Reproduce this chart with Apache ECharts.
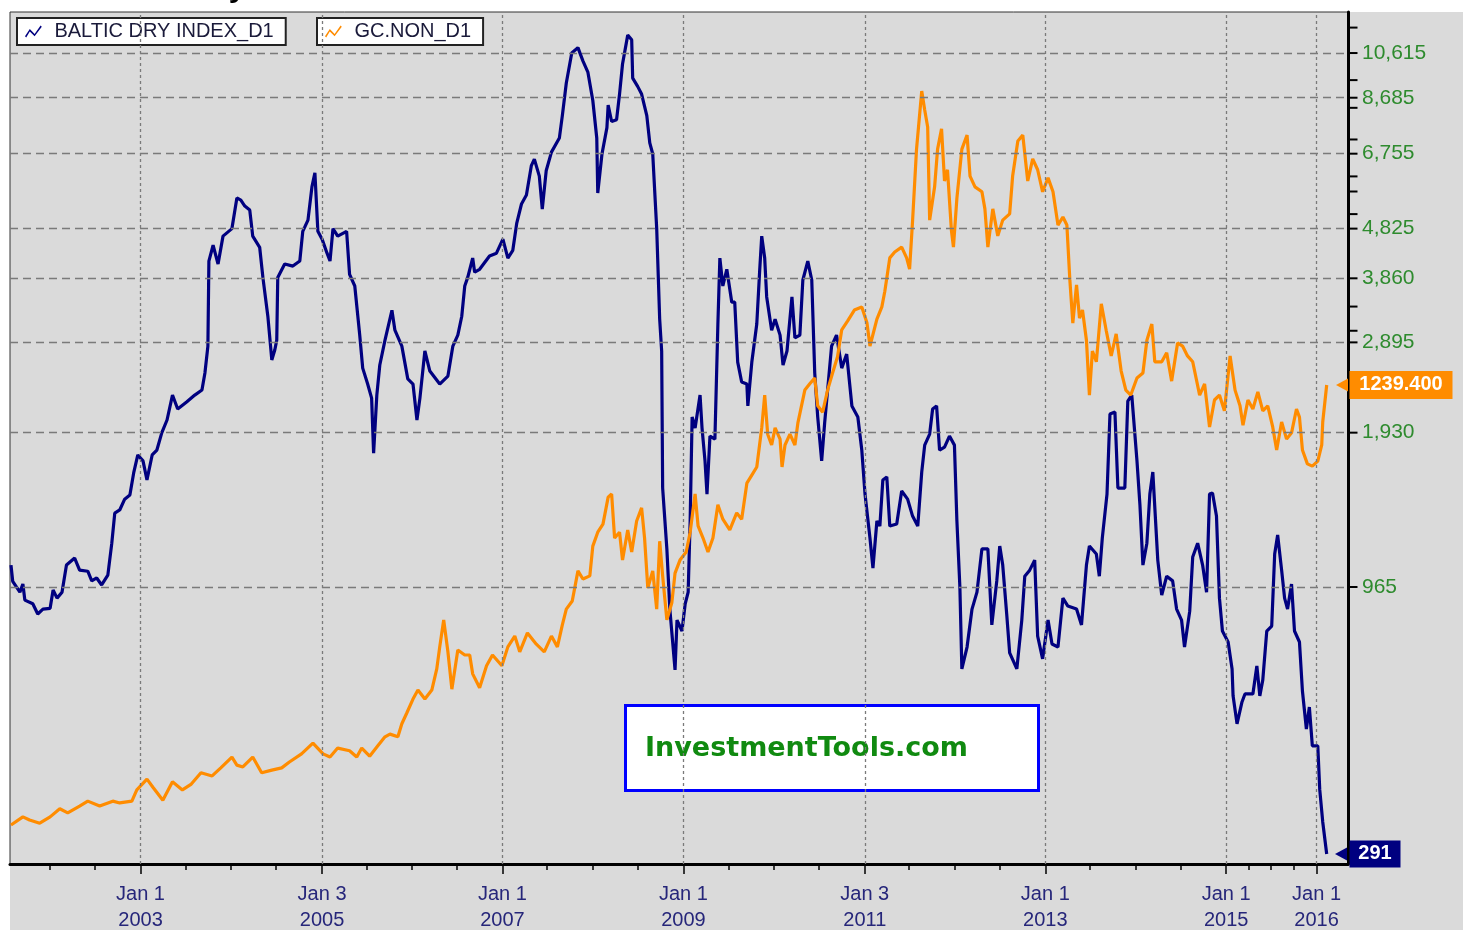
<!DOCTYPE html>
<html><head><meta charset="utf-8">
<script src="https://cdn.jsdelivr.net/npm/echarts@6/dist/echarts.min.js"></script>
<style>html,body{margin:0;padding:0;background:#fff;}#chart{width:1463px;height:930px;}</style>
</head><body><div id="chart"></div>
<script>
const bdiDates = ['2001-07-27','2001-08-03','2001-09-01','2001-09-13','2001-09-21','2001-10-23','2001-11-12','2001-12-03','2002-01-01','2002-01-13','2002-01-29','2002-02-18','2002-03-08','2002-04-10','2002-04-30','2002-06-02','2002-06-18','2002-07-08','2002-07-28','2002-08-22','2002-09-07','2002-09-19','2002-10-09','2002-10-29','2002-11-19','2002-12-05','2002-12-21','2003-01-11','2003-01-27','2003-02-17','2003-03-08','2003-03-28','2003-04-18','2003-05-10','2003-05-31','2003-07-06','2003-08-08','2003-09-06','2003-09-18','2003-09-30','2003-10-04','2003-10-21','2003-11-10','2003-11-30','2004-01-05','2004-01-25','2004-02-10','2004-02-26','2004-03-17','2004-03-29','2004-04-26','2004-05-09','2004-05-29','2004-06-14','2004-06-26','2004-07-04','2004-07-08','2004-08-05','2004-09-07','2004-10-05','2004-10-17','2004-11-07','2004-11-23','2004-12-05','2004-12-17','2005-01-03','2005-01-23','2005-02-04','2005-02-16','2005-03-07','2005-04-12','2005-04-24','2005-05-15','2005-06-04','2005-06-16','2005-07-06','2005-07-22','2005-07-30','2005-08-12','2005-08-24','2005-09-14','2005-10-12','2005-10-24','2005-11-21','2005-12-15','2006-01-05','2006-01-21','2006-02-02','2006-02-22','2006-03-14','2006-04-23','2006-05-26','2006-06-15','2006-07-05','2006-07-21','2006-08-02','2006-08-14','2006-09-03','2006-09-11','2006-10-01','2006-11-10','2006-12-08','2007-01-03','2007-01-23','2007-02-12','2007-02-28','2007-03-19','2007-04-08','2007-04-28','2007-05-10','2007-05-30','2007-06-11','2007-06-27','2007-07-18','2007-08-19','2007-08-31','2007-09-16','2007-10-08','2007-11-02','2007-11-22','2007-12-12','2008-01-01','2008-01-17','2008-01-21','2008-02-07','2008-02-27','2008-03-03','2008-03-17','2008-04-06','2008-04-18','2008-04-30','2008-05-21','2008-06-06','2008-06-10','2008-06-30','2008-07-16','2008-08-06','2008-08-18','2008-08-30','2008-09-15','2008-09-27','2008-10-05','2008-10-09','2008-10-26','2008-11-07','2008-11-28','2008-12-06','2008-12-26','2009-01-08','2009-01-20','2009-01-28','2009-02-05','2009-02-17','2009-03-09','2009-03-17','2009-03-29','2009-04-06','2009-04-18','2009-05-08','2009-05-20','2009-05-28','2009-06-09','2009-06-25','2009-07-15','2009-07-27','2009-08-08','2009-08-24','2009-09-14','2009-09-18','2009-10-04','2009-10-24','2009-11-05','2009-11-13','2009-11-25','2009-12-03','2009-12-23','2010-01-06','2010-01-26','2010-02-07','2010-02-23','2010-03-15','2010-03-27','2010-04-16','2010-04-28','2010-05-18','2010-06-03','2010-06-15','2010-06-27','2010-07-13','2010-07-25','2010-08-06','2010-08-22','2010-09-11','2010-10-02','2010-10-22','2010-11-12','2010-12-06','2010-12-22','2011-01-04','2011-01-24','2011-02-05','2011-02-21','2011-03-05','2011-03-17','2011-04-02','2011-04-14','2011-05-12','2011-06-01','2011-06-25','2011-07-15','2011-08-05','2011-08-21','2011-09-02','2011-09-22','2011-10-04','2011-10-20','2011-11-01','2011-11-21','2011-12-11','2011-12-31','2012-01-10','2012-01-22','2012-01-30','2012-02-20','2012-03-11','2012-03-31','2012-04-20','2012-05-14','2012-05-30','2012-06-19','2012-07-01','2012-07-13','2012-07-29','2012-08-10','2012-09-08','2012-09-28','2012-10-10','2012-10-30','2012-11-19','2012-12-01','2012-12-21','2013-01-12','2013-01-28','2013-02-21','2013-03-13','2013-04-02','2013-05-07','2013-05-27','2013-06-16','2013-06-28','2013-07-26','2013-08-07','2013-08-19','2013-09-07','2013-09-19','2013-10-09','2013-10-21','2013-11-18','2013-11-30','2013-12-16','2014-01-06','2014-01-18','2014-01-30','2014-02-15','2014-02-27','2014-03-11','2014-03-31','2014-04-16','2014-05-06','2014-05-30','2014-06-15','2014-07-05','2014-07-17','2014-08-07','2014-08-19','2014-09-08','2014-09-28','2014-10-14','2014-10-26','2014-11-07','2014-11-23','2014-12-05','2014-12-17','2015-01-09','2015-01-25','2015-01-29','2015-02-14','2015-03-06','2015-03-18','2015-04-19','2015-05-05','2015-05-17','2015-05-29','2015-06-14','2015-07-04','2015-07-16','2015-07-28','2015-08-13','2015-08-25','2015-09-06','2015-09-22','2015-10-04','2015-10-24','2015-11-05','2015-11-21','2015-12-03','2015-12-15','2016-01-06','2016-01-14','2016-01-26','2016-02-11'];
const bdiValues = [1065,990,943,978,910,895,855,874,877,952,918,943,1065,1099,1041,1036,992,1005,974,1018,1175,1345,1364,1432,1459,1617,1746,1700,1561,1746,1785,1930,2043,2285,2146,2215,2285,2337,2523,2847,4171,4478,4115,4665,4825,5539,5485,5340,5244,4665,4437,3876,3256,2675,2797,2924,3876,4115,4078,4171,4767,5013,5818,6197,4767,4602,4321,4171,4825,4665,4767,3930,3729,2991,2579,2401,2254,1761,2285,2615,2924,3343,3058,2847,2457,2401,2043,2254,2785,2545,2401,2489,2847,2991,3256,3729,3876,4227,3967,4019,4268,4321,4602,4227,4377,4946,5389,5609,6404,6591,6108,5268,6265,6803,7247,8013,9277,10615,10877,10248,9747,8578,7247,5660,6745,7595,8405,7807,7870,8830,10104,11503,11271,9486,9139,8830,8013,7093,6745,4825,3212,2785,1505,1145,874,665,832,792,895,943,1298,2071,1970,2285,1970,1700,1465,1901,1875,3144,4227,3729,4019,3468,3468,2650,2423,2401,2176,2650,3144,4019,4665,4227,3551,3058,3212,2991,2615,2785,3551,2953,2991,3831,4171,3831,2523,2071,1700,2015,2337,2847,2991,2579,2746,2176,2071,1785,1465,1202,1051,1298,1269,1561,1582,1269,1281,1485,1432,1327,1269,1617,1825,1918,2146,2176,1785,1809,1901,1825,1298,965,668,737,874,943,1145,1145,814,992,1160,1065,855,718,668,832,1013,1041,1089,774,699,832,747,737,918,886,874,814,1065,1160,1119,1013,1202,1465,2099,2118,1505,1505,2224,2285,1700,1394,1065,1175,1465,1617,1089,931,1013,992,874,832,737,866,1104,1175,1065,943,1465,1472,1327,918,792,754,668,592,522,576,597,597,677,592,636,792,810,1119,1219,1041,918,874,978,792,754,605,510,563,473,473,388,336,291];
const goldDates = ['2001-07-27','2001-09-13','2001-10-10','2001-11-20','2002-01-01','2002-02-09','2002-03-13','2002-04-30','2002-06-02','2002-07-20','2002-09-11','2002-10-09','2002-11-27','2002-12-17','2003-01-27','2003-02-20','2003-04-01','2003-05-10','2003-06-19','2003-07-25','2003-09-02','2003-10-17','2003-11-21','2004-01-05','2004-01-25','2004-02-18','2004-03-29','2004-05-04','2004-06-14','2004-07-24','2004-08-24','2004-10-12','2004-11-27','2005-01-07','2005-02-04','2005-03-07','2005-04-24','2005-05-23','2005-06-12','2005-07-14','2005-08-16','2005-09-14','2005-10-04','2005-11-05','2005-11-21','2005-12-11','2006-01-05','2006-01-25','2006-02-22','2006-03-22','2006-04-11','2006-04-23','2006-05-09','2006-05-26','2006-06-11','2006-07-05','2006-08-02','2006-08-22','2006-09-03','2006-10-01','2006-10-29','2006-11-22','2006-12-30','2007-01-23','2007-02-20','2007-03-12','2007-04-12','2007-05-18','2007-06-19','2007-07-18','2007-08-11','2007-08-31','2007-09-16','2007-10-10','2007-11-02','2007-11-22','2007-12-20','2008-01-01','2008-01-21','2008-02-11','2008-03-03','2008-03-17','2008-03-29','2008-04-18','2008-04-30','2008-05-21','2008-06-06','2008-06-26','2008-07-16','2008-07-28','2008-08-10','2008-08-30','2008-09-15','2008-09-27','2008-10-09','2008-10-26','2008-11-15','2008-11-28','2008-12-18','2009-01-12','2009-01-28','2009-02-17','2009-03-01','2009-03-21','2009-04-10','2009-04-30','2009-05-20','2009-06-09','2009-07-07','2009-08-04','2009-08-24','2009-09-14','2009-10-04','2009-10-24','2009-11-13','2009-11-25','2009-12-07','2009-12-23','2010-01-06','2010-01-26','2010-02-03','2010-02-15','2010-03-07','2010-03-27','2010-04-08','2010-05-06','2010-05-26','2010-06-15','2010-06-27','2010-07-17','2010-08-06','2010-08-26','2010-09-15','2010-10-02','2010-10-26','2010-11-22','2010-12-22','2011-01-12','2011-01-24','2011-02-21','2011-03-13','2011-03-25','2011-04-14','2011-05-04','2011-06-01','2011-06-21','2011-07-03','2011-07-15','2011-07-31','2011-08-21','2011-09-02','2011-09-14','2011-09-22','2011-10-12','2011-10-24','2011-11-09','2011-11-21','2011-12-03','2011-12-19','2011-12-27','2012-01-10','2012-01-30','2012-02-20','2012-03-03','2012-03-23','2012-04-20','2012-05-02','2012-05-14','2012-06-03','2012-06-23','2012-07-13','2012-08-10','2012-08-22','2012-09-12','2012-10-02','2012-10-22','2012-11-11','2012-12-01','2012-12-21','2013-01-12','2013-02-01','2013-02-21','2013-03-13','2013-03-29','2013-04-10','2013-04-22','2013-05-07','2013-05-19','2013-05-31','2013-06-16','2013-06-28','2013-07-10','2013-07-26','2013-08-15','2013-09-04','2013-09-24','2013-10-14','2013-11-03','2013-11-22','2013-12-12','2014-01-06','2014-01-30','2014-02-15','2014-03-07','2014-03-19','2014-04-16','2014-05-06','2014-05-26','2014-06-19','2014-07-09','2014-07-29','2014-08-19','2014-09-16','2014-10-06','2014-10-26','2014-11-15','2014-12-05','2014-12-25','2015-01-17','2015-02-06','2015-02-26','2015-03-10','2015-03-30','2015-04-19','2015-05-09','2015-05-29','2015-06-18','2015-07-08','2015-07-24','2015-08-13','2015-09-02','2015-09-22','2015-10-12','2015-10-24','2015-11-05','2015-11-25','2015-12-15','2016-01-06','2016-01-22','2016-01-26','2016-02-11'];
const goldValues = [261,279,272,265,279,297,288,303,314,303,314,310,314,339,363,345,316,357,339,352,377,370,388,412,394,390,412,377,383,388,401,419,443,419,412,432,426,412,432,414,437,457,463,457,486,510,541,561,541,561,608,657,717,646,563,650,639,639,597,566,615,639,615,657,681,646,688,663,646,681,657,706,741,759,826,808,815,881,912,930,990,997,899,912,850,917,868,937,966,899,788,826,741,892,815,717,755,821,850,868,912,997,926,899,868,899,973,941,917,955,941,1021,1039,1057,1144,1217,1130,1106,1144,1119,1057,1106,1130,1106,1155,1228,1242,1255,1193,1179,1228,1266,1302,1362,1382,1406,1413,1377,1326,1386,1413,1448,1522,1535,1546,1522,1497,1604,1764,1893,1851,1813,1606,1680,1764,1809,1693,1718,1582,1546,1655,1764,1795,1704,1680,1669,1631,1546,1631,1571,1606,1620,1704,1782,1795,1693,1742,1718,1669,1700,1669,1595,1613,1595,1473,1377,1462,1388,1406,1339,1217,1315,1291,1420,1360,1304,1353,1271,1228,1217,1255,1266,1339,1375,1291,1291,1311,1248,1333,1326,1304,1291,1217,1242,1146,1206,1217,1182,1304,1228,1193,1150,1206,1186,1224,1182,1193,1146,1095,1157,1119,1133,1186,1168,1095,1064,1059,1070,1106,1157,1239.4];

const bdiTickValues = [965, 1930, 2895, 3860, 4825, 6755, 8685, 10615];
const bdiMinorTicks = [11900, 9400, 8300, 7200, 6100, 5700, 5150, 3400, 3050];
const xLabelDates = ['2003-01-01','2005-01-03','2007-01-01','2009-01-01','2011-01-03','2013-01-01','2015-01-01','2016-01-01'];
const xMinorTickDates = ['2002-01-01','2002-07-01','2003-07-01','2004-01-01','2004-07-01','2005-07-01','2006-01-01','2006-07-01','2007-07-01','2008-01-01','2008-07-01','2009-07-01','2010-01-01','2010-07-01','2011-07-01','2012-01-01','2012-07-01','2013-07-01','2014-01-01','2014-07-01','2015-04-01','2015-07-01','2015-10-01'];
const seriesNames = ['BALTIC DRY INDEX_D1', 'GC.NON_D1'];
const lastBdiLabel = '291';
const lastGoldLabel = '1239.400';

const MONTHS = ['Jan','Feb','Mar','Apr','May','Jun','Jul','Aug','Sep','Oct','Nov','Dec'];
const ts = s => Date.parse(s + 'T00:00:00Z');
const X_MIN = ts('2001-07-23'), X_MAX = ts('2016-05-07');
const NAVY = '#000080', ORANGE = '#ff8c00', FONT = '"Liberation Sans", Arial, sans-serif';

const bdiData = bdiDates.map((d, i) => [ts(d), bdiValues[i]]);
const goldData = goldDates.map((d, i) => [ts(d), goldValues[i]]);
const lastBdi = bdiValues[bdiValues.length - 1];
const lastGold = goldValues[goldValues.length - 1];

const hLines = bdiTickValues.map(v => ({
  yAxis: v,
  lineStyle: { color: '#7a7a7a', type: [8, 5], width: 1.3 },
  label: { show: true, position: 'end', distance: 14, formatter: () => v.toLocaleString('en-US'),
           color: '#2e8b2e', fontSize: 21, fontFamily: FONT }
}));
const vLines = xLabelDates.map(d => ({
  xAxis: ts(d),
  lineStyle: { color: '#7a7a7a', type: [3, 3], width: 1.3 },
  label: { show: false }
}));
const tickMarks = bdiTickValues.concat(bdiMinorTicks).map(v => ({
  coord: [X_MAX, v], symbol: 'rect', symbolSize: [9, 2], symbolOffset: [5, 0],
  itemStyle: { color: '#000' }, label: { show: false }
}));

const chart = echarts.init(document.getElementById('chart'), null, { renderer: 'canvas' });
const legendBase = {
  top: 18, orient: 'horizontal', backgroundColor: '#fff', borderColor: '#222', borderWidth: 2,
  padding: [3, 12, 3, 8], itemWidth: 20, itemHeight: 12, selectedMode: false,
  icon: 'path://M0,9 L4,3 L8,7 L13,0 L14,1 L8,9 L4,5 L1,10 Z',
  textStyle: { color: '#1a1a3a', fontSize: 20, fontFamily: FONT, padding: [0, 0, 0, 6], lineHeight: 21 }
};
const xAxisBase = { type: 'value', min: X_MIN, max: X_MAX, position: 'bottom', scale: true, splitLine: { show: false } };
chart.setOption({
  animation: false,
  backgroundColor: '#ffffff',
  textStyle: { fontFamily: FONT },
  legend: [
    Object.assign({}, legendBase, { left: 17, data: [seriesNames[0]] }),
    Object.assign({}, legendBase, { left: 317, data: [seriesNames[1]] })
  ],
  grid: { left: 10, right: 115, top: 12, bottom: 66, show: true, borderColor: '#333', borderWidth: 1,
          backgroundColor: 'transparent', containLabel: false, outerBoundsMode: 'none' },
  xAxis: [
    Object.assign({}, xAxisBase, {
      axisLine: { show: true, onZero: false, lineStyle: { color: '#000', width: 3 } },
      axisTick: { show: true, customValues: xMinorTickDates.map(ts), length: 6, lineStyle: { color: '#000', width: 1.5 } },
      axisLabel: { show: false } }),
    Object.assign({}, xAxisBase, {
      axisLine: { show: false, onZero: false },
      axisTick: { show: true, customValues: xLabelDates.map(ts), length: 10, lineStyle: { color: '#000', width: 1.5 } },
      axisLabel: { show: true, customValues: xLabelDates.map(ts), margin: 17, color: '#26267a', fontSize: 20,
                   lineHeight: 26, fontFamily: FONT, hideOverlap: false,
                   formatter: (v) => { const d = new Date(v); return MONTHS[d.getUTCMonth()] + ' ' + d.getUTCDate() + '\n' + d.getUTCFullYear(); } } })
  ],
  yAxis: [
    { type: 'log', logBase: 10, min: 278.2, max: 12763, position: 'right',
      axisLine: { show: true, lineStyle: { color: '#000', width: 3 } },
      axisTick: { show: false }, axisLabel: { show: false }, splitLine: { show: false } },
    { type: 'value', min: 174.2, max: 2068.8, show: false, splitLine: { show: false } }
  ],
  graphic: [
    { type: 'rect', z: -10, shape: { x: 10, y: 12, width: 1453, height: 918 }, style: { fill: '#dadada' }, silent: true },
    { type: 'text', z: 5, x: 229, y: -36, style: { text: 'y', font: '40px "Liberation Sans"', fill: '#000' }, silent: true },
    { type: 'rect', z: 1, shape: { x: 625.5, y: 705.5, width: 413, height: 85 }, style: { fill: '#fff', stroke: '#0000ff', lineWidth: 3 }, silent: true },
    { type: 'text', z: 1, x: 645, y: 735, style: { text: 'InvestmentTools.com', font: 'bold 27px "DejaVu Sans"', fill: '#108a10' }, silent: true }
  ],
  series: [
    { name: seriesNames[0], type: 'line', xAxisIndex: 0, yAxisIndex: 0, data: bdiData,
      showSymbol: false, symbol: 'none', color: NAVY, lineStyle: { color: NAVY, width: 3.2 }, z: 3,
      markLine: { silent: true, symbol: ['none', 'none'], animation: false, data: hLines.concat(vLines) },
      markPoint: { silent: true, animation: false, data: tickMarks.concat([
        { coord: [X_MAX, lastBdi], symbol: 'triangle', symbolRotate: 90, symbolSize: [13, 12], symbolOffset: [-7, 0],
          itemStyle: { color: NAVY }, label: { show: false } },
        { coord: [X_MAX, lastBdi], symbol: 'rect', symbolSize: [51, 27], symbolOffset: [27, 0],
          itemStyle: { color: NAVY }, label: { show: true, position: 'inside', formatter: lastBdiLabel,
          color: '#fff', fontWeight: 'bold', fontSize: 20, fontFamily: FONT } }
      ]) } },
    { name: seriesNames[1], type: 'line', xAxisIndex: 0, yAxisIndex: 1, data: goldData,
      showSymbol: false, symbol: 'none', color: ORANGE, lineStyle: { color: ORANGE, width: 3.2 }, z: 4,
      markPoint: { silent: true, animation: false, data: [
        { coord: [X_MAX, lastGold], symbol: 'triangle', symbolRotate: 90, symbolSize: [13, 12], symbolOffset: [-6, 0],
          itemStyle: { color: ORANGE }, label: { show: false } },
        { coord: [X_MAX, lastGold], symbol: 'rect', symbolSize: [103, 28], symbolOffset: [53, 0],
          itemStyle: { color: ORANGE }, label: { show: true, position: 'inside', formatter: lastGoldLabel,
          color: '#fff', fontWeight: 'bold', fontSize: 20, fontFamily: FONT } }
      ] } }
  ]
});
</script></body></html>
